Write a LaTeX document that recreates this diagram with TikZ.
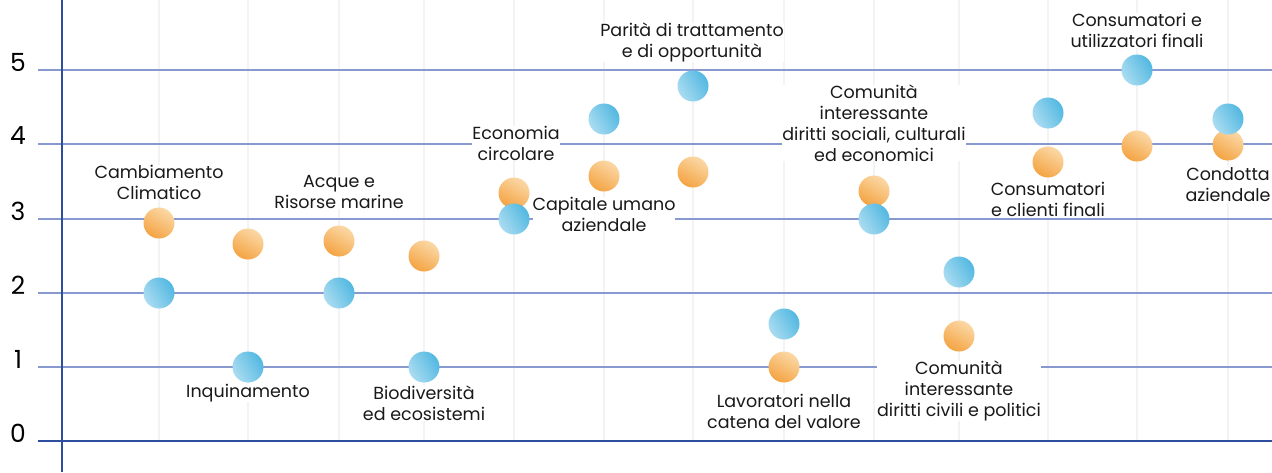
\documentclass[tikz,border=0pt]{standalone}
\usepackage{fontspec}
\setmainfont{Poppins}
\definecolor{gridblue}{HTML}{8799CE}
\definecolor{axisblue}{HTML}{2D4E9E}
\definecolor{vgrid}{HTML}{F3F3F3}
\definecolor{orA}{HTML}{F4A443}
\definecolor{orB}{HTML}{FBD8A6}
\definecolor{blA}{HTML}{AADCF1}
\definecolor{blB}{HTML}{52B8E1}
\tikzset{
  hline/.style={gridblue, line width=2pt},
  zline/.style={axisblue, line width=2.4pt},
  vline/.style={vgrid, line width=2pt},
  tick/.style={font=\fontsize{25}{27}\selectfont, text=black, anchor=center},
  lbl/.style={fill=white, align=center, inner sep=0pt, text=black!90,
    font=\fontsize{17.5}{21}\selectfont},
  % note: y axis is flipped, so shading directions are mirrored
  odot/.style={circle, minimum size=31pt, inner sep=0pt,
    top color=orB, middle color=orB!85!orA, bottom color=orA, shading angle=-30},
  bdot/.style={circle, minimum size=31pt, inner sep=0pt,
    left color=blA, right color=blB, shading angle=120},
}
\begin{document}
\begin{tikzpicture}[x=1pt, y=-1pt]
\useasboundingbox (0,0) rectangle (1272,472);
% vertical faint grid
\foreach \cx in {159,248,339,424,514,604,693,784,874,959,1048,1137,1228}
  \draw[vline] (\cx,0) -- (\cx,441);
% horizontal grid
\foreach \v/\yy in {1/367,2/293,3/219,4/144,5/70}{
  \draw[hline] (38,\yy) -- (1272,\yy);
  \node[tick] (t\v) at (18,\yy-8) {\v};
}
\draw[zline] (38,441) -- (1272,441);
\node[tick] (t0) at (18,433) {0};
% y axis
\draw[axisblue, line width=2pt] (62,0) -- (62,472);
% labels
\node[lbl] (l1) at (159,182) {Cambiamento\\Climatico};
\node[lbl] (l2) at (248,393) {Inquinamento};
\node[lbl] (l3) at (339,192.5) {Acque e\\Risorse marine};
\node[lbl] (l4) at (424,403.5) {Biodiversità\\ed ecosistemi};
\node[lbl] (l5) at (516,143.5) {Economia\\circolare};
\node[lbl] (l6) at (604,214) {Capitale umano\\aziendale};
\node[lbl] (l7) at (692,42.5) {Parità di trattamento\\e di opportunità};
\node[lbl] (l8) at (874,123) {Comunità\\interessante\\diritti sociali, culturali\\ed economici};
\node[lbl] (l9) at (784,411.5) {Lavoratori nella\\catena del valore};
\node[lbl] (l10) at (959,391) {Comunità\\interessante\\diritti civili e politici};
\node[lbl] (l11) at (1048,199.5) {Consumatori\\e clienti finali};
\node[lbl] (l12) at (1137,30.5) {Consumatori e\\utilizzatori finali};
\node[lbl] (l13) at (1228,184.5) {Condotta\\aziendale};
% orange dots
\node[odot] (o1) at (159,223) {};
\node[odot] (o2) at (248,244) {};
\node[odot] (o3) at (339,241) {};
\node[odot] (o4) at (424,256) {};
\node[odot] (o5) at (514,193) {};
\node[odot] (o6) at (604,176) {};
\node[odot] (o7) at (693,172) {};
\node[odot] (o8) at (784,367) {};
\node[odot] (o9) at (874,191) {};
\node[odot] (o10) at (959,336) {};
\node[odot] (o11) at (1048,162) {};
\node[odot] (o12) at (1137,146) {};
\node[odot] (o13) at (1228,145) {};
% blue dots
\node[bdot] (b1) at (159,293) {};
\node[bdot] (b2) at (248,367) {};
\node[bdot] (b3) at (339,293) {};
\node[bdot] (b4) at (424,367) {};
\node[bdot] (b5) at (514,219) {};
\node[bdot] (b6) at (604,119) {};
\node[bdot] (b7) at (693,86) {};
\node[bdot] (b8) at (784,324) {};
\node[bdot] (b9) at (874,219) {};
\node[bdot] (b10) at (959,272) {};
\node[bdot] (b11) at (1048,113) {};
\node[bdot] (b12) at (1137,70) {};
\node[bdot] (b13) at (1228,119) {};
\end{tikzpicture}
\end{document}
